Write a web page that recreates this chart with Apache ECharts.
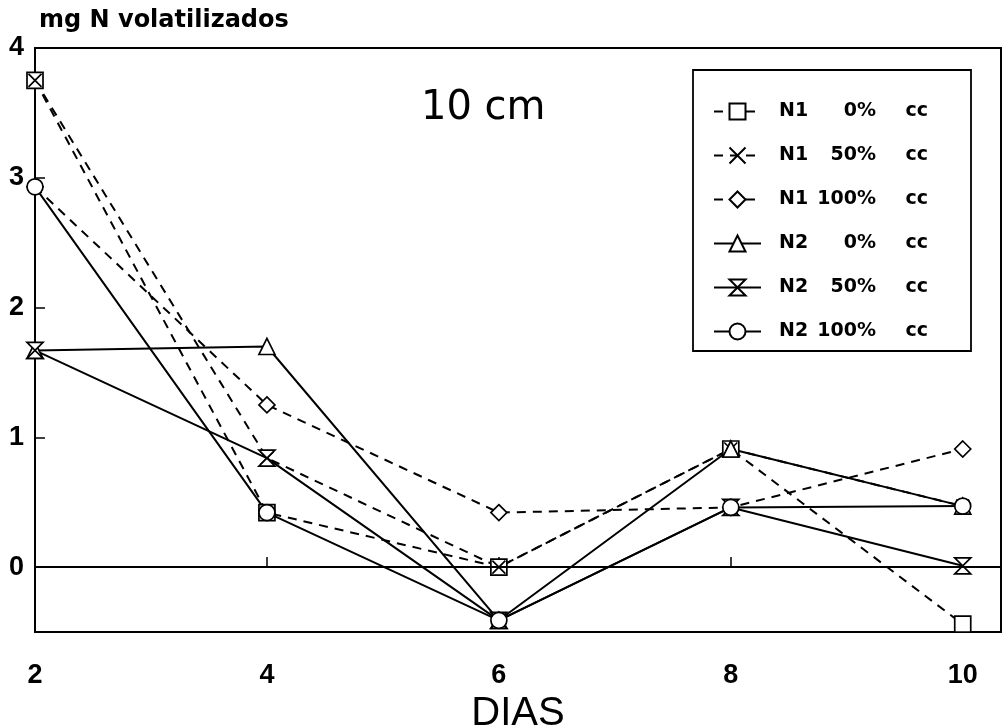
<!DOCTYPE html>
<html>
<head>
<meta charset="utf-8">
<script src="https://cdn.jsdelivr.net/npm/echarts@6/dist/echarts.min.js"></script>
<style>html,body{margin:0;padding:0;background:#fff}#c{width:1002px;height:727px}</style>
</head>
<body>
<div id="c"></div>
<script>
const days = [2, 4, 6, 8, 10];
const xTicks = [2, 4, 6, 8, 10];
const yTicks = [0, 1, 2, 3, 4];
const seriesNames = ['N1   0% cc', 'N1  50% cc', 'N1 100% cc', 'N2   0% cc', 'N2  50% cc', 'N2 100% cc'];
const n1_0   = [3.75, 0.42, 0.00, 0.91, -0.44];
const n1_50  = [3.75, 0.84, 0.00, 0.91, 0.47];
const n1_100 = [2.93, 1.25, 0.42, 0.46, 0.91];
const n2_0   = [1.67, 1.70, -0.41, 0.91, 0.47];
const n2_50  = [1.67, 0.84, -0.41, 0.46, 0.01];
const n2_100 = [2.93, 0.42, -0.41, 0.46, 0.47];

const values = [n1_0, n1_50, n1_100, n2_0, n2_50, n2_100];
const symbols = [
  'rect',
  'path://M0,0 L10,10 M10,0 L0,10',
  'diamond',
  'triangle',
  'path://M0,0 L10,0 L0,10 L10,10 Z',
  'circle'
];
const dashed = [true, true, true, false, false, false];

const chart = echarts.init(document.getElementById('c'), null, {renderer: 'canvas'});
const series = values.map((v, i) => ({
  name: seriesNames[i],
  type: 'line',
  data: days.map((d, j) => [d, v[j]]),
  symbol: symbols[i],
  symbolSize: i === 1 ? 13 : 16,
  showAllSymbol: true,
  clip: false,
  lineStyle: {color: '#000', width: 2, type: dashed[i] ? [9, 7] : 'solid'},
  itemStyle: {color: '#fff', borderColor: '#000', borderWidth: 1.7},
  z: 3,
  markLine: i === 0 ? {
    silent: true, symbol: 'none', animation: false,
    label: {show: false},
    lineStyle: {color: '#000', width: 1.8, type: 'solid'},
    data: [{yAxis: 0}]
  } : undefined
}));

const richBase = {fontFamily: 'DejaVu Sans', fontWeight: 'bold', fontSize: 19, color: '#000'};

chart.setOption({
  animation: false,
  backgroundColor: '#fff',
  title: [
    {text: 'mg N volatilizados', left: 34, top: 4,
     textStyle: {fontFamily: 'DejaVu Sans', fontWeight: 'bold', fontSize: 24, color: '#000'}},
    {text: '10 cm', left: 416, top: 84,
     textStyle: {fontFamily: 'DejaVu Sans', fontWeight: 'normal', fontSize: 40, color: '#000'}}
  ],
  grid: {left: 35, right: 1, top: 48, bottom: 95, containLabel: false, outerBoundsMode: 'none',
         show: true, borderColor: '#000', borderWidth: 2, backgroundColor: 'transparent'},
  legend: {
    orient: 'vertical',
    left: 693, top: 70,
    padding: [31, 43, 9, 20],
    itemWidth: 47, itemHeight: 20, itemGap: 23,
    borderColor: '#000', borderWidth: 1.8,
    backgroundColor: '#fff',
    data: seriesNames,
    formatter: function (name) {
      const p = name.trim().split(/\s+/);
      return '{a|' + p[0] + '}{b|' + p[1] + '}{c|' + p[2] + '}';
    },
    textStyle: Object.assign({}, richBase, {
      lineHeight: 21,
      padding: [0, 0, 0, 13],
      rich: {
        a: Object.assign({width: 40, align: 'left'}, richBase),
        b: Object.assign({width: 57, align: 'right'}, richBase),
        c: Object.assign({width: 52, align: 'right'}, richBase)
      }
    })
  },
  xAxis: {
    type: 'value', min: 2, max: 10.33,
    name: 'DIAS', nameLocation: 'middle', nameGap: 60,
    nameTextStyle: {fontFamily: 'Liberation Sans Narrow, Liberation Sans', fontSize: 40, color: '#000'},
    axisLine: {show: true, lineStyle: {color: '#000', width: 2}},
    axisTick: {show: true, inside: true, length: 10, customValues: xTicks, lineStyle: {color: '#000', width: 1.5}},
    axisLabel: {customValues: xTicks, margin: 30, color: '#000', fontFamily: 'Liberation Sans', fontWeight: 'bold', fontSize: 27},
    splitLine: {show: false}
  },
  yAxis: {
    type: 'value', min: -0.5, max: 4,
    axisLine: {show: true, lineStyle: {color: '#000', width: 2}},
    axisTick: {show: true, inside: true, length: 10, customValues: yTicks, lineStyle: {color: '#000', width: 1.5}},
    axisLabel: {customValues: yTicks, margin: 11, color: '#000', fontFamily: 'Liberation Sans', fontWeight: 'bold', fontSize: 27},
    splitLine: {show: false}
  },
  series: series
});
</script>
</body>
</html>
